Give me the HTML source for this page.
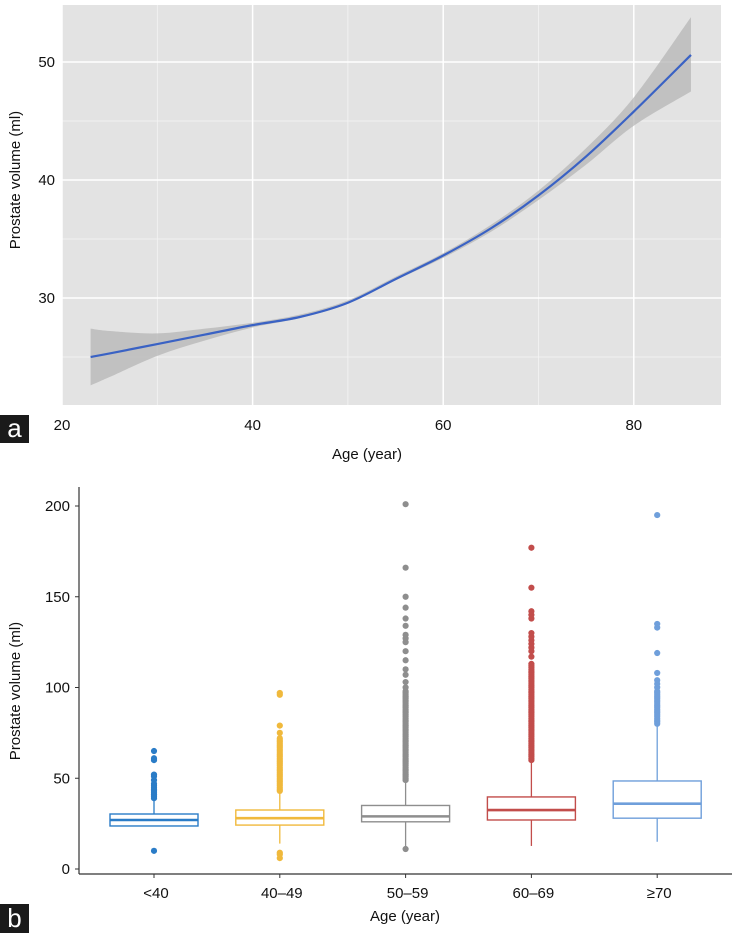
<!DOCTYPE html>
<html><head><meta charset="utf-8"><style>
body{margin:0;background:#fff;width:734px;height:933px;overflow:hidden;font-family:"Liberation Sans",Arial,sans-serif}
svg text{font-family:"Liberation Sans",Arial,sans-serif;fill:#111}
</style></head><body>
<svg id="chart" width="734" height="933">
<g id="pa"></g>
<g id="pb"></g>
</svg>
<script>
// Panel a data
const ages=[23,25,30,35,40,45,50,55,60,65,70,75,80,86];
const fitVals=[25.0,25.3,26.1,26.9,27.7,28.4,29.6,31.6,33.6,35.9,38.7,42.0,45.8,50.6];
const loVals=[22.6,23.3,25.1,26.4,27.5,28.3,29.5,31.5,33.4,35.6,38.3,41.3,44.6,47.5];
const hiVals=[27.4,27.2,27.0,27.4,27.9,28.6,29.8,31.8,33.8,36.2,39.1,42.7,47.0,53.8];
const aXTicks=[20,40,60,80];
const aYTicks=[30,40,50];
const aYMinor=[25,35,45];
// Panel b data
const cats=["<40","40–49","50–59","60–69","≥70"];
const q1=[23.7,24.2,26,27,28];
const med=[27,28,29,32.5,36];
const q3=[30.3,32.5,35,39.7,48.5];
const wLo=[23.7,14,11,12.7,15];
const wHi=[40,43,48.5,59.5,79];
const out0=[39,40,41,42,43,44,45,46,47,49,51,52,60,61,65,10];
const out1=[43,44,45,46,47,48,49,50,51,52,53,54,55,56,57,58,59,60,61,62,63,64,65,66,67,68,69,70,71,72,75,79,96,97,6,8,9];
const out2=[49,50,51,52,53,54,55,56,57,58,59,60,61,62,63,64,65,66,67,68,69,70,71,72,73,74,75,76,77,78,79,80,81,82,83,84,85,86,87,88,89,90,91,92,93,94,95,96,97,98,100,103,107,110,115,120,125,127,129,134,138,144,150,166,201,11];
const out3=[60,61,62,63,64,65,66,67,68,69,70,71,72,73,74,75,76,77,78,79,80,81,82,83,84,85,86,87,88,89,90,91,92,93,94,95,96,97,98,99,100,101,102,103,104,105,106,107,108,109,110,111,112,113,117,120,122,124,126,128,130,138,140,142,155,177];
const out4=[80,81,82,83,84,85,86,87,88,89,90,91,92,93,94,95,96,97,98,100,102,104,108,119,133,135,195];
const bYTicks=[0,50,100,150,200];
const colors=["#2a7cc7","#f0b93c","#8e8e8e","#c24d4b","#6f9fdb"];

const NS="http://www.w3.org/2000/svg";
function mk(parent,tag,attrs,text){const e=document.createElementNS(NS,tag);for(const k in attrs)e.setAttribute(k,attrs[k]);if(text!==undefined)e.textContent=text;parent.appendChild(e);return e;}
function smooth(pts,start){let d=start?"M"+pts[0][0]+","+pts[0][1]:"L"+pts[0][0]+","+pts[0][1];
 for(let i=0;i<pts.length-1;i++){const p0=pts[Math.max(0,i-1)],p1=pts[i],p2=pts[i+1],p3=pts[Math.min(pts.length-1,i+2)];
  const c1=[p1[0]+(p2[0]-p0[0])/6,p1[1]+(p2[1]-p0[1])/6],c2=[p2[0]-(p3[0]-p1[0])/6,p2[1]-(p3[1]-p1[1])/6];
  d+="C"+c1[0]+","+c1[1]+" "+c2[0]+","+c2[1]+" "+p2[0]+","+p2[1];}
 return d;}

// ---------- Panel a ----------
const pa=document.getElementById('pa');
const ax=a=>62+(a-20)*9.53;
const ay=v=>62+(50-v)*11.8;
let r=mk(pa,'rect',{x:62,y:5,width:659,height:400,fill:'#e3e3e3'});


aYMinor.forEach(v=>{let l=mk(pa,'line',{x1:62,x2:721,y1:ay(v),y2:ay(v),stroke:'#f4f4f4','stroke-width':0.8});

});
[30,50,70].forEach(v=>{let l=mk(pa,'line',{x1:ax(v),x2:ax(v),y1:5,y2:405,stroke:'#f4f4f4','stroke-width':0.8});

});
aYTicks.forEach(v=>{let l=mk(pa,'line',{x1:62,x2:721,y1:ay(v),y2:ay(v),stroke:'#fff','stroke-width':1.5});


let t=mk(pa,'text',{x:55,y:ay(v)+5,'text-anchor':'end','font-size':15},v);

});
aXTicks.forEach(v=>{let l=mk(pa,'line',{x1:ax(v),x2:ax(v),y1:5,y2:405,stroke:'#fff','stroke-width':1.5});


let t=mk(pa,'text',{x:ax(v),y:430,'text-anchor':'middle','font-size':15},v);

});
const hiPts=ages.map((a,i)=>[ax(a),ay(hiVals[i])]);
const loPts=ages.map((a,i)=>[ax(a),ay(loVals[i])]).reverse();
let band=smooth(hiPts,true)+smooth(loPts,false)+"Z";
let bp=mk(pa,'path',{d:band,fill:'#b5b5b5','fill-opacity':0.75});


let lp=mk(pa,'path',{d:smooth(ages.map((a,i)=>[ax(a),ay(fitVals[i])]),true),fill:'none',stroke:'#3a62c4','stroke-width':2.2});


let yt=mk(pa,'text',{transform:'translate(20,180) rotate(-90)','text-anchor':'middle','font-size':15},'Prostate volume (ml)');


let xt=mk(pa,'text',{x:367,y:459,'text-anchor':'middle','font-size':15},'Age (year)');


let lb=mk(pa,'rect',{x:0,y:415,width:29,height:28,fill:'#1a1a1a'});


let la=mk(pa,'text',{x:14.5,y:437,'text-anchor':'middle','font-size':26,style:'fill:#fff'},'a');



// ---------- Panel b ----------
const pb=document.getElementById('pb');
const by=v=>869-v*1.815;
const bx=i=>154+i*125.8;
let yl=mk(pb,'line',{x1:79,x2:79,y1:487,y2:874,stroke:'#333','stroke-width':1.2});


let xl=mk(pb,'line',{x1:79,x2:732,y1:874,y2:874,stroke:'#333','stroke-width':1.2});


bYTicks.forEach(v=>{let l=mk(pb,'line',{x1:75,x2:79,y1:by(v),y2:by(v),stroke:'#333'});


let t=mk(pb,'text',{x:70,y:by(v)+5,'text-anchor':'end','font-size':15},v);

});
const outs=[out0,out1,out2,out3,out4];
cats.forEach((c,i)=>{
 const x=bx(i),col=colors[i];
 let tk=mk(pb,'line',{x1:x,x2:x,y1:874,y2:878,stroke:'#333'});
 
 
 let t=mk(pb,'text',{x:x+2,y:898,'text-anchor':'middle','font-size':15},c);
 
 
 let g=mk(pb,'g',{});
 
 
 mk(g,'line',{x1:x,x2:x,y1:by(wHi[i]),y2:by(q3[i]),stroke:col,'stroke-width':1.3});
 mk(g,'line',{x1:x,x2:x,y1:by(q1[i]),y2:by(wLo[i]),stroke:col,'stroke-width':1.3});
 mk(g,'rect',{x:x-44,y:by(q3[i]),width:88,height:by(q1[i])-by(q3[i]),fill:'#fff',stroke:col,'stroke-width':1.4});
 mk(g,'line',{x1:x-44,x2:x+44,y1:by(med[i]),y2:by(med[i]),stroke:col,'stroke-width':2.6});
 outs[i].forEach(v=>{let d=mk(pb,'circle',{cx:x,cy:by(v),r:3.1,fill:col});
 
 });
});
let yt2=mk(pb,'text',{transform:'translate(20,691) rotate(-90)','text-anchor':'middle','font-size':15},'Prostate volume (ml)');


let xt2=mk(pb,'text',{x:405,y:921,'text-anchor':'middle','font-size':15},'Age (year)');


let lbb=mk(pb,'rect',{x:0,y:904,width:29,height:29,fill:'#1a1a1a'});


let lbt=mk(pb,'text',{x:14.5,y:927,'text-anchor':'middle','font-size':26,style:'fill:#fff'},'b');


</script>
</body></html>
